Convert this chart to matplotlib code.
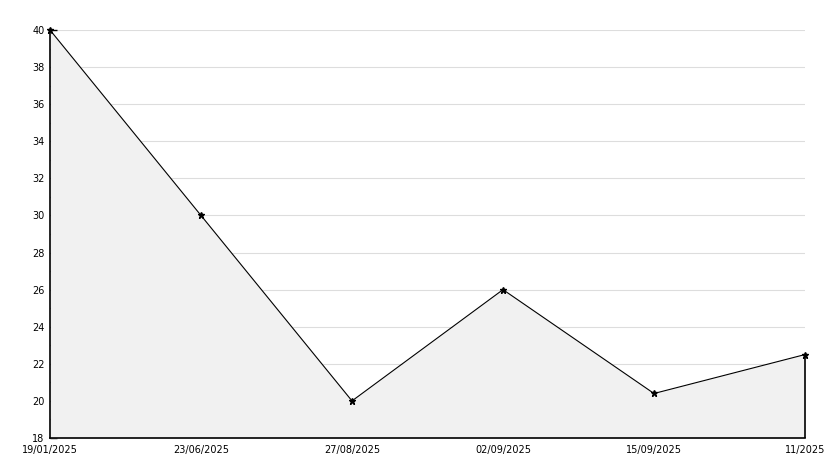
import matplotlib
matplotlib.use("Agg")
import matplotlib.pyplot as plt
from matplotlib.ticker import MultipleLocator

dates = ["19/01/2025", "23/06/2025", "27/08/2025", "02/09/2025", "15/09/2025", "11/2025"]
values = [40, 30, 20, 26, 20.4, 22.5]

W, H = 834, 468
fig = plt.figure(figsize=(W / 100, H / 100), dpi=100)
ax = fig.add_axes([50 / W, 30 / H, 755 / W, 408 / H])

x = list(range(len(values)))
ax.fill_between(x, values, 18, color="#f1f1f1", linewidth=0, zorder=1)
ax.plot(x, values, color="black", linewidth=0.8, zorder=3)
ax.plot(x, values, linestyle="none", marker="*", markersize=5, color="black",
        zorder=4, clip_on=False)
ax.vlines(x[-1], 18, values[-1], color="black", linewidth=1.2, zorder=3, clip_on=False)

ax.set_xlim(0, len(values) - 1)
ax.set_ylim(18, 40)
ax.yaxis.set_major_locator(MultipleLocator(2))
ax.yaxis.set_minor_locator(MultipleLocator(1))
ax.set_xticks(x)
ax.set_xticklabels(dates)
ax.grid(axis="y", which="major", color="#dddddd", linewidth=0.8, zorder=0)
ax.set_axisbelow(True)

for s in ["top", "right"]:
    ax.spines[s].set_visible(False)
for s in ["left", "bottom"]:
    ax.spines[s].set_color("black")
    ax.spines[s].set_linewidth(1.2)

ax.tick_params(axis="y", which="major", direction="in", length=5, width=1, labelsize=7, pad=4)
ax.tick_params(axis="y", which="minor", direction="in", length=4, width=1)
ax.tick_params(axis="x", length=0, labelsize=7, pad=5)

fig.savefig("out.png", dpi=100)
